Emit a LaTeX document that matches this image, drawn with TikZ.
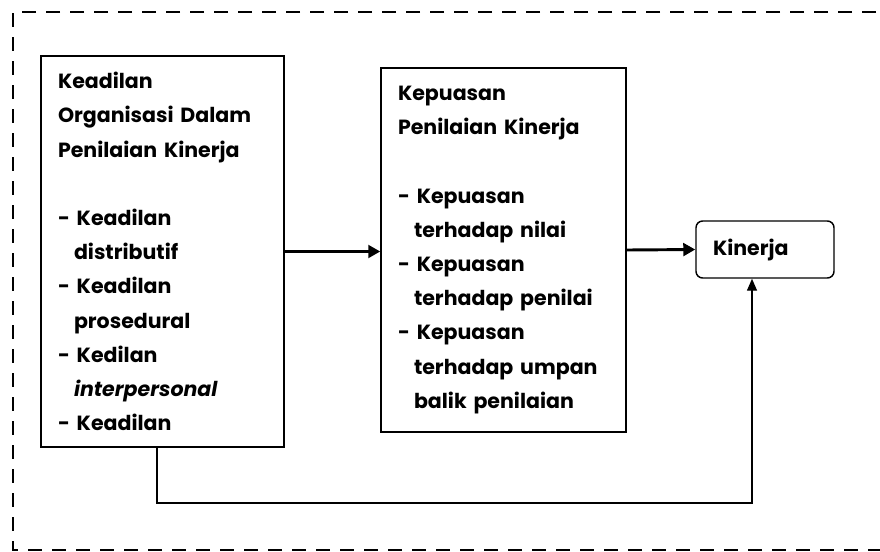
\documentclass[tikz,border=0pt]{standalone}
\usepackage{fontspec}
\setmainfont{Poppins}
\usetikzlibrary{arrows.meta}

% hanging indent for the list lines
\newcommand{\ind}{\hspace*{12pt}}

\tikzset{
	kotak/.style={draw, line width=1.1pt, align=left, inner xsep=12.75pt, inner ysep=0pt,
		font=\fontsize{15.4}{25.65}\selectfont\bfseries},
	panah/.style={line width=2.2pt, -{Triangle[length=9pt,width=9.5pt]}},
	balik/.style={line width=1.1pt, -{Triangle[length=9pt,width=7.5pt]}}
}

\begin{document}
\begin{tikzpicture}[x=0.75pt,y=-0.75pt]
	\useasboundingbox (0,0) rectangle (880,551);
	
	% dashed frame
	\draw[line width=2.2pt, dash pattern=on 10.5pt off 7.5pt] (900,12) -- (13,12) -- (13,550) -- (900,550);
	
	\node[kotak, text width=156.75pt, minimum width=182.25pt, minimum height=293.25pt] (adil) at (162.5,251.5)
	{Keadilan\\ Organisasi Dalam\\ Penilaian Kinerja\\ ~\\
		- Keadilan\\ \ind distributif\\
		- Keadilan\\ \ind prosedural\\
		- Kedilan\\ \ind \textit{interpersonal}\\
		- Keadilan};
	
	\node[kotak, text width=158.25pt, minimum width=183.75pt, minimum height=273pt] (puas) at (503.5,250)
	{Kepuasan\\ Penilaian Kinerja\\ ~\\
		- Kepuasan\\ \ind terhadap nilai\\
		- Kepuasan\\ \ind terhadap penilai\\
		- Kepuasan\\ \ind terhadap umpan\\ \ind balik penilaian};
	
	\node[kotak, rounded corners=5pt, text width=78pt, minimum width=103.5pt, minimum height=42.75pt] (kin) at (765,249.5)
	{Kinerja};
	
	\coordinate (fb) at (752,503);
	
	\draw[panah] (adil.east) -- (adil.east -| puas.west);
	\draw[panah] (puas.east) -- (kin.west);
	\draw[balik] ([xshift=-4.1pt]adil.south) |- (fb) -- (fb |- kin.south);
	
\end{tikzpicture}
\end{document}
